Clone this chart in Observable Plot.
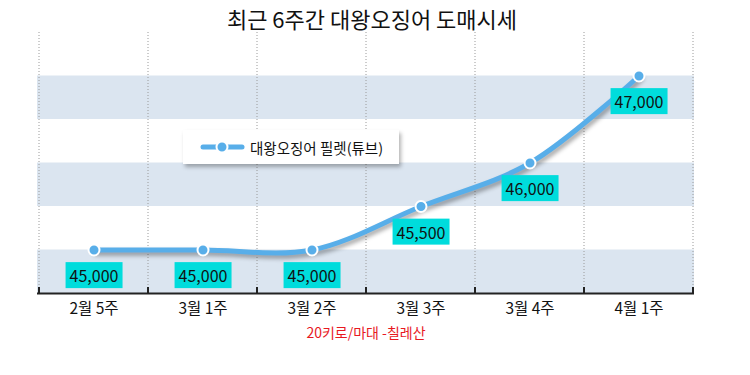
<!DOCTYPE html>
<html><head><meta charset="utf-8">
<script src="https://cdn.jsdelivr.net/npm/d3@7"></script>
<script src="https://cdn.jsdelivr.net/npm/@observablehq/plot@0.6"></script>
<style>
body{margin:0;background:#fff;}
#wrap{position:relative;width:750px;height:375px;font-family:"Noto Sans CJK KR",sans-serif;}
#legend{position:absolute;left:183px;top:130px;width:216px;height:34px;background:#fff;box-shadow:2px 3px 4px rgba(0,0,0,0.3);display:flex;align-items:center;}
#legend span{font-size:14.5px;color:#111;margin-left:5px;white-space:nowrap;}
</style></head>
<body><div id="wrap"></div>
<script>
const title = "최근 6주간 대왕오징어 도매시세";
const seriesName = "대왕오징어 필렛(튜브)";
const caption = "20키로/마대 -칠레산";
const weeks = ["2월 5주","3월 1주","3월 2주","3월 3주","3월 4주","4월 1주"];
const prices = [45000,45000,45000,45500,46000,47000];
const yDomain = [44500, 47500];
const bandRanges = [[44500,45000],[45500,46000],[46500,47000]];

const lineColor = "#58aee9";
const data = weeks.map((w,i)=>({week:w, price:prices[i]}));

function boundaries(index, scales, values, dims) {
  const x = scales.x, y = scales.y;
  const bw = x.bandwidth();
  const xs = weeks.map(w => x(w)).concat([x(weeks[weeks.length-1]) + bw]);
  const yTop = y(yDomain[1]), yBot = y(yDomain[0]);
  const g = d3.create("svg:g");
  g.selectAll("line.grid").data(xs).join("line")
    .attr("x1", d=>d).attr("x2", d=>d).attr("y1", yTop).attr("y2", yBot)
    .attr("stroke", "#9a9a9a").attr("stroke-width", 1).attr("stroke-dasharray", "1,2");
  g.selectAll("line.tick").data(xs).join("line")
    .attr("x1", d=>d).attr("x2", d=>d).attr("y1", yBot - 6).attr("y2", yBot)
    .attr("stroke", "#222").attr("stroke-width", 2);
  return g.node();
}

const chart = Plot.plot({
  width: 750, height: 375,
  marginLeft: 37, marginRight: 56, marginTop: 32, marginBottom: 82,
  style: {fontFamily: '"Noto Sans CJK KR", sans-serif', background: "transparent", overflow: "visible"},
  x: {type: "band", domain: weeks, padding: 0, axis: null},
  y: {domain: yDomain, axis: null},
  marks: [
    Plot.rect(bandRanges, {y1: d=>d[0], y2: d=>d[1], fill: "#dbe5f0"}),
    boundaries,
    Plot.ruleY([yDomain[0]], {stroke: "#222", strokeWidth: 2}),
    Plot.axisX({tickSize: 0, tickPadding: 9, fontSize: 15.5, fill: "#111", label: null}),
    Plot.line(data, {x: "week", y: "price", curve: "catmull-rom", stroke: lineColor, strokeWidth: 5}),
    Plot.dot(data, {x: "week", y: "price", r: 5.5, fill: lineColor, stroke: "white", strokeWidth: 2}),
    Plot.text(data, {x: "week", y: "price", text: d => d3.format(",")(d.price), dy: 27, fontSize: 16, fill: "#111"}),
    Plot.text([title], {frameAnchor: "top", lineAnchor: "middle", dy: -12, dx: 6, fontSize: 22, fill: "#111"}),
    Plot.text([caption], {frameAnchor: "bottom", lineAnchor: "middle", dy: 40, fontSize: 14, fill: "#e8191f"})
  ]
});

const wrap = document.getElementById("wrap");
wrap.append(chart);

// drop shadow on the line
const lineG = chart.querySelector('g[aria-label="line"]');
if (lineG) lineG.style.filter = "drop-shadow(2px 3px 2px rgba(0,0,0,0.35))";

// cyan boxes behind the value labels
const labelG = chart.querySelectorAll('g[aria-label="text"]')[0];
if (labelG) {
  labelG.querySelectorAll("text").forEach(t => {
    const b = t.getBBox();
    const r = document.createElementNS("http://www.w3.org/2000/svg", "rect");
    r.setAttribute("x", b.x - 4);
    r.setAttribute("width", b.width + 8);
    r.setAttribute("y", b.y + b.height / 2 - 13);
    r.setAttribute("height", 26);
    r.setAttribute("fill", "#00dcdc");
    const tr = t.getAttribute("transform");
    if (tr) r.setAttribute("transform", tr);
    labelG.insertBefore(r, t);
  });
}

// legend
const legend = document.createElement("div");
legend.id = "legend";
legend.innerHTML = `<svg width="62" height="20" style="flex:none"><line x1="20" x2="59" y1="10" y2="10" stroke="${lineColor}" stroke-width="5" stroke-linecap="round"/><circle cx="39" cy="10" r="5.5" fill="${lineColor}" stroke="white" stroke-width="2"/></svg><span></span>`;
legend.querySelector("span").textContent = seriesName;
wrap.append(legend);
</script>
</body></html>
